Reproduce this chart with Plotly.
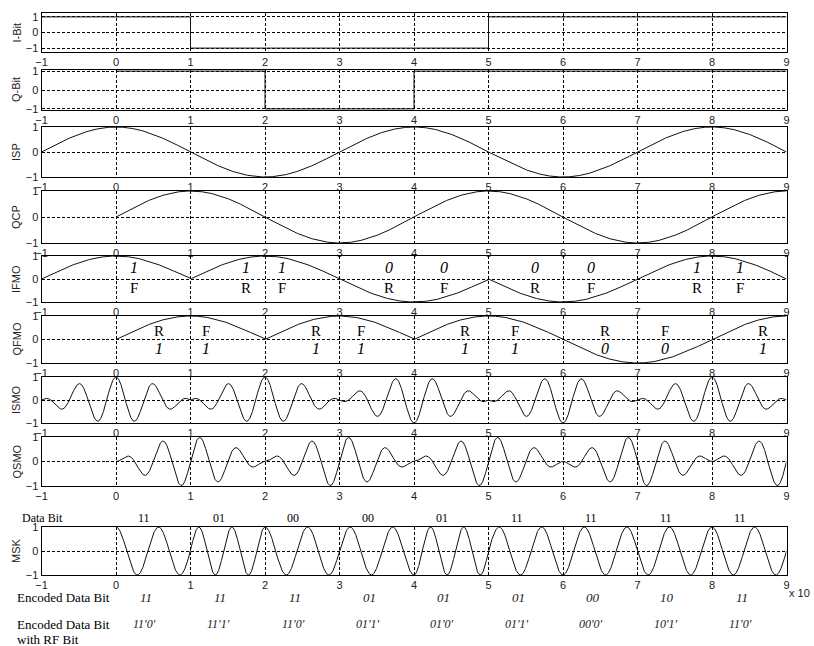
import numpy as np
import plotly.graph_objects as go

# ---------------- data ----------------
x_ticks = [-1, 0, 1, 2, 3, 4, 5, 6, 7, 8, 9]
i_edges = [-1, 1, 3, 5, 7, 9]
i_bits = [1, -1, -1, 1, 1]
q_edges = [0, 2, 4, 6, 8, 9]
q_bits = [1, -1, 1, 1, 1]
half_sine_rate = 0.5      # cos(pi*t/2)
carrier_rate = 4.0        # cos(4*pi*t)

panel_names = ["I-Bit", "Q-Bit", "ISP", "QCP", "IFMO", "QFMO", "ISMO", "QSMO", "MSK"]

ifmo_pos = [0.24, 1.75, 2.23, 3.67, 4.4, 5.62, 6.37, 7.8, 8.37]
ifmo_bit = ["1", "1", "1", "0", "0", "0", "0", "1", "1"]
ifmo_rf = ["F", "R", "F", "R", "F", "R", "F", "R", "F"]

qfmo_pos = [0.58, 1.21, 2.69, 3.29, 4.68, 5.35, 6.57, 7.37, 8.68]
qfmo_bit = ["1", "1", "1", "1", "1", "1", "0", "0", "1"]
qfmo_rf = ["R", "F", "R", "F", "R", "F", "R", "F", "R"]

data_bits = ["11", "01", "00", "00", "01", "11", "11", "11", "11"]
encoded_bits = ["11", "11", "11", "01", "01", "01", "00", "10", "11"]
encoded_rf = ["11'0'", "11'1'", "11'0'", "01'1'", "01'0'", "01'1'", "00'0'", "10'1'", "11'0'"]

# ---------------- signals built from the bits ----------------
t = np.linspace(-1, 9, 4001)
tq = t[t >= 0]


def step(edges, bits, tt):
    idx = np.clip(np.searchsorted(edges, tt, side="right") - 1, 0, len(bits) - 1)
    return np.array(bits)[idx]


isp = np.cos(np.pi * half_sine_rate * t)
qcp = np.sin(np.pi * half_sine_rate * tq)
ifmo = isp * step(i_edges, i_bits, t)
qfmo = qcp * step(q_edges, q_bits, tq)
ismo = ifmo * np.cos(np.pi * carrier_rate * t)
qsmo = qfmo * np.sin(np.pi * carrier_rate * tq)
msk = ismo[t >= 0] + qsmo

# ---------------- layout ----------------
W, H = 814, 646
X0, X1 = 41.5, 786.5
panels_px = [(13, 52), (70, 110), (127, 177), (191, 243), (256, 302),
             (316, 363), (377, 423), (437, 486), (527, 575)]
y_ranges = [[-1.25, 1.25], [-1.06, 1.06]] + [[-1, 1]] * 7


def py(p):
    return 1 - p / H


def pxx(p):
    return p / W


fig = go.Figure()

series = [
    (i_edges, list(i_bits) + [i_bits[-1]], "hv"),
    (q_edges, list(q_bits) + [q_bits[-1]], "hv"),
    (t, isp, "linear"),
    (tq, qcp, "linear"),
    (t, ifmo, "linear"),
    (tq, qfmo, "linear"),
    (t, ismo, "linear"),
    (tq, qsmo, "linear"),
    (tq, msk, "linear"),
]

sans = "Liberation Sans, Arial, sans-serif"
serif = "Liberation Serif, Times New Roman, serif"
axis_font = dict(family=sans, size=11, color="#222")
annotations = []


def ann(**kw):
    kw.setdefault("showarrow", False)
    kw.setdefault("xanchor", "center")
    kw.setdefault("yanchor", "middle")
    annotations.append(kw)


for k, ((xs, ys, shape), (top, bot), yr, name) in enumerate(zip(series, panels_px, y_ranges, panel_names)):
    n = k + 1
    xa = "x" if n == 1 else f"x{n}"
    ya = "y" if n == 1 else f"y{n}"
    fig.add_trace(go.Scatter(x=xs, y=ys, mode="lines", line=dict(color="#111", width=1, shape=shape),
                             xaxis=xa, yaxis=ya, showlegend=False, hoverinfo="skip"))
    xkey = "xaxis" if n == 1 else f"xaxis{n}"
    ykey = "yaxis" if n == 1 else f"yaxis{n}"
    fig.layout[xkey] = dict(domain=[pxx(X0), pxx(X1)], anchor=ya, range=[-1, 9], tickvals=x_ticks,
                            showgrid=True, gridcolor="black", griddash="3px,2px", gridwidth=1,
                            zeroline=False, showline=True, linecolor="black", linewidth=1, mirror=True,
                            ticks="", tickfont=axis_font, fixedrange=True, automargin=False)
    fig.layout[ykey] = dict(domain=[py(bot), py(top)], anchor=xa, range=yr, tickvals=[-1, 0, 1],
                            showgrid=True, gridcolor="black", griddash="3px,2px", gridwidth=1,
                            zeroline=False, showline=True, linecolor="black", linewidth=1, mirror=True,
                            ticks="", tickfont=axis_font, fixedrange=True, automargin=False)
    ann(x=pxx(16), y=py((top + bot) / 2), xref="paper", yref="paper", text=name, textangle=-90,
        font=dict(family=sans, size=11, color="#222"))

for xp, b, r in zip(ifmo_pos, ifmo_bit, ifmo_rf):
    ann(x=xp, y=0.5, xref="x5", yref="y5", text=f"<i>{b}</i>", font=dict(family=serif, size=16, color="black"))
    ann(x=xp, y=-0.4, xref="x5", yref="y5", text=r, font=dict(family=serif, size=15, color="black"))
for xp, b, r in zip(qfmo_pos, qfmo_bit, qfmo_rf):
    ann(x=xp, y=0.38, xref="x6", yref="y6", text=r, font=dict(family=serif, size=15, color="black"))
    ann(x=xp, y=-0.4, xref="x6", yref="y6", text=f"<i>{b}</i>", font=dict(family=serif, size=16, color="black"))

label_offset = 0.38
for k in range(len(data_bits)):
    xc = k + label_offset
    ann(x=xc, y=py(518), xref="x9", yref="paper", text=data_bits[k],
        font=dict(family=serif, size=12, color="black"))
    ann(x=xc + 0.02, y=py(597), xref="x9", yref="paper", text=f"<i>{encoded_bits[k]}</i>",
        font=dict(family=serif, size=13, color="#222"))
    ann(x=xc, y=py(624), xref="x9", yref="paper", text=f"<i>{encoded_rf[k]}</i>",
        font=dict(family=serif, size=12, color="#222"))

ann(x=pxx(20), y=py(518), xref="paper", yref="paper", text="Data Bit", xanchor="left",
    font=dict(family=serif, size=12, color="black"))
ann(x=pxx(15), y=py(597), xref="paper", yref="paper", text="Encoded Data Bit", xanchor="left",
    font=dict(family=serif, size=13, color="black"))
ann(x=pxx(15), y=py(624), xref="paper", yref="paper", text="Encoded Data Bit", xanchor="left",
    font=dict(family=serif, size=13, color="black"))
ann(x=pxx(15), y=py(639), xref="paper", yref="paper", text="with RF Bit", xanchor="left",
    font=dict(family=serif, size=13, color="black"))
ann(x=pxx(812), y=py(593), xref="paper", yref="paper", text="x 10", xanchor="right",
    font=dict(family=sans, size=11, color="#222"))

fig.update_layout(width=W, height=H, autosize=False, margin=dict(l=0, r=0, t=0, b=0, autoexpand=False),
                  paper_bgcolor="white", plot_bgcolor="white", annotations=annotations,
                  font=dict(family=sans))

fig.write_html("out.html", config={"displayModeBar": False},
               post_script="document.body.style.margin='0px';document.body.style.overflow='hidden';")
